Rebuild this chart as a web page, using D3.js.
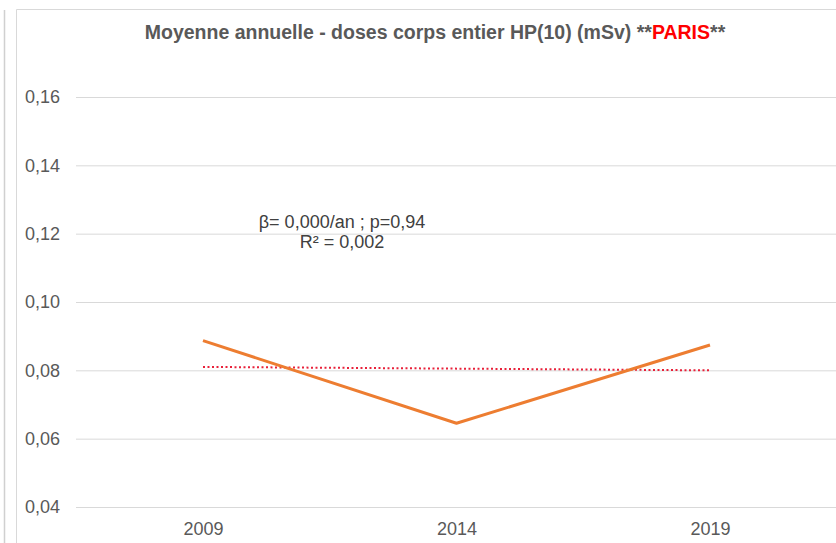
<!DOCTYPE html>
<html><head><meta charset="utf-8">
<script src="https://cdn.jsdelivr.net/npm/d3@7"></script>
<style>body{margin:0;background:#fff;}svg{display:block;font-family:Arial,"Liberation Sans",sans-serif;}</style>
</head><body><svg id="c" width="836" height="543"></svg>
<script>
const years = ["2009", "2014", "2019"];
const doses = [0.0887, 0.0645, 0.0874];
const trend = [0.0810, 0.0800];
const yTicks = [0.04, 0.06, 0.08, 0.10, 0.12, 0.14, 0.16];
const annotation = ["β= 0,000/an ; p=0,94", "R² = 0,002"];

const svg = d3.select("#c");
const x = d3.scalePoint().domain(years).range([203, 710]);
const y = d3.scaleLinear().domain([0.04, 0.16]).range([507, 97]);

// frame lines
svg.append("line").attr("x1",4.5).attr("x2",4.5).attr("y1",10).attr("y2",543).attr("stroke","#d0d0d0").attr("stroke-width",1.5);
svg.append("line").attr("x1",16.5).attr("x2",16.5).attr("y1",9.5).attr("y2",543).attr("stroke","#d9d9d9");
svg.append("line").attr("x1",16.5).attr("x2",836).attr("y1",9.5).attr("y2",9.5).attr("stroke","#d9d9d9");

// grid
const fmt = d => d3.format(".2f")(d).replace(".", ",");
const yAxis = d3.axisLeft(y).tickValues(yTicks).tickSize(-760).tickFormat(fmt);
const gy = svg.append("g").attr("transform","translate(76,0)").call(yAxis);
gy.select(".domain").remove();
gy.selectAll(".tick line").attr("stroke","#d9d9d9");
gy.selectAll(".tick text").attr("x",-16).attr("fill","#595959").style("font-size","18px");

const xAxis = d3.axisBottom(x).tickSize(0);
const gx = svg.append("g").attr("transform","translate(0,507)").call(xAxis);
gx.select(".domain").remove();
gx.selectAll(".tick text").attr("dy","0").attr("y",28).attr("fill","#595959").style("font-size","18px");

// trend
svg.append("line")
  .attr("x1", x(years[0])).attr("x2", x(years[2]))
  .attr("y1", y(trend[0])).attr("y2", y(trend[1]))
  .attr("stroke","#e8213a").attr("stroke-width",2).attr("stroke-dasharray","2,2.5");

// line
svg.append("path").datum(doses)
  .attr("d", d3.line().x((d,i)=>x(years[i])).y(d=>y(d)))
  .attr("fill","none").attr("stroke","#ed7d31").attr("stroke-width",3).attr("stroke-linejoin","round");

// annotation
svg.append("text").attr("x",342).attr("y",228).attr("text-anchor","middle").attr("fill","#404040").style("font-size","18px").text(annotation[0]);
svg.append("text").attr("x",342).attr("y",248).attr("text-anchor","middle").attr("fill","#404040").style("font-size","18px").text(annotation[1]);

// title
const t = svg.append("text").attr("x",435).attr("y",39).attr("text-anchor","middle").style("font-size","19.5px").style("font-weight","bold").attr("fill","#595959");
t.append("tspan").text("Moyenne annuelle - doses corps entier HP(10) (mSv) **");
t.append("tspan").attr("fill","#ff0000").text("PARIS");
t.append("tspan").text("**");
</script></body></html>
